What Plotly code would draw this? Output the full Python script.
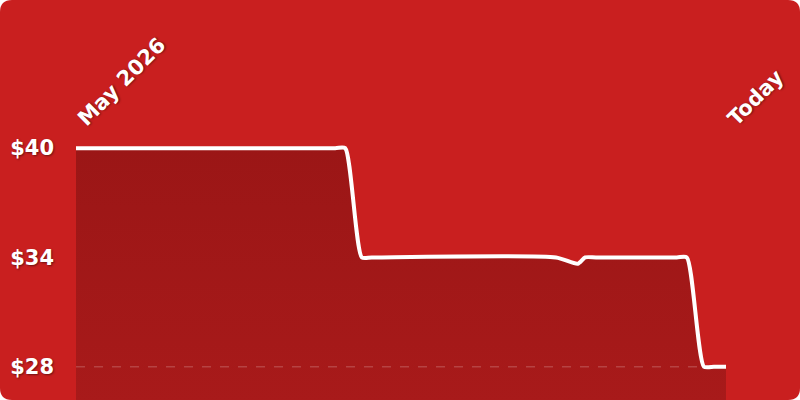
import plotly.graph_objects as go

# price history (turning points of the line)
dates = ["2026-05-01 00:00", "2026-05-26 22:00", "2026-05-27 22:00",
         "2026-05-29 14:00", "2026-05-30 14:00", "2026-06-18 00:00",
         "2026-06-20 04:00", "2026-06-20 22:00", "2026-06-22 00:00",
         "2026-06-30 02:00", "2026-07-01 02:00", "2026-07-02 19:00",
         "2026-07-03 19:00", "2026-07-05 00:00"]
prices = [40, 40, 40, 34, 34, 34, 33.65, 34, 34, 34, 34, 28, 28, 28]

tick_dates = [dates[0], dates[-1]]
tick_labels = ["May 2026", "Today"]
price_ticks = [28, 34, 40]
price_labels = ["$" + str(p) for p in price_ticks]

bg_red = "#C91F1F"
label_font = dict(family="DejaVu Sans", size=21, color="white",
                  weight="bold", shadow="1px 1px 2px rgba(0,0,0,0.45)")

fig = go.Figure()
fig.add_trace(go.Scatter(
    x=dates, y=prices, mode="lines",
    line=dict(color="white", width=4, shape="spline", smoothing=0.6),
    fill="tozeroy",
    fillgradient=dict(type="vertical", start=26, stop=40,
                      colorscale=[[0, "#A81A1A"], [1, "#9B1616"]]),
    hoverinfo="skip",
))

# rounded card behind everything
r_x = 12 / 800
r_y = 12 / 400
card = ("M {a},0 L {b},0 Q 1,0 1,{c} L 1,{d} Q 1,1 {b},1 L {a},1 Q 0,1 0,{d} "
        "L 0,{c} Q 0,0 {a},0 Z").format(a=r_x, b=1 - r_x, c=r_y, d=1 - r_y)
fig.add_shape(type="path", path=card, xref="paper", yref="paper",
              fillcolor=bg_red, line=dict(width=0), layer="below")

# dashed floor line at the lowest price
fig.add_shape(type="line", xref="paper", yref="y", x0=0.095, x1=0.9075,
              y0=min(prices), y1=min(prices), layer="above",
              line=dict(color="rgba(255,255,255,0.18)", width=1.5, dash="dash"))

fig.update_layout(
    width=800, height=400,
    margin=dict(l=0, r=0, t=0, b=0),
    paper_bgcolor="white",
    plot_bgcolor="rgba(0,0,0,0)",
    showlegend=False,
    xaxis=dict(domain=[0.095, 0.9075], range=[dates[0], dates[-1]],
               side="top", tickvals=tick_dates, ticktext=tick_labels,
               tickangle=-45, showgrid=False, zeroline=False, showline=False,
               ticklabelshift=3, ticklabelstandoff=2,
               tickfont=label_font, automargin=False, fixedrange=True),
    yaxis=dict(domain=[0, 0.657], range=[26.17, 40.6],
               tickvals=price_ticks, ticktext=price_labels,
               showgrid=False, zeroline=False, showline=False,
               ticklabelstandoff=21, tickfont=label_font,
               automargin=False, fixedrange=True),
)

fig.write_html("out.html", config={"displayModeBar": False},
               post_script="document.body.style.margin='0';")
